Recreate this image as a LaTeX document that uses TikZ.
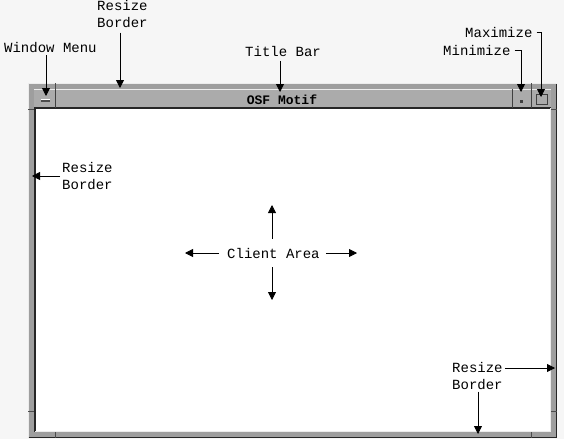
\documentclass[tikz,border=0pt]{standalone}
\usepackage{fontspec}
\setmonofont{Liberation Mono}
\usepackage{tikz}
\usetikzlibrary{arrows.meta}
\definecolor{frameGray}{HTML}{9E9E9E}
\definecolor{titleGray}{HTML}{ABABAB}
\definecolor{paperGray}{HTML}{F6F6F6}

\begin{document}
\begin{tikzpicture}[x=1pt,y=-1pt,
  lbl/.style={font=\ttfamily\fontsize{14}{16.5}\selectfont,inner sep=2pt,align=left},
  tip/.style={-{Triangle[length=8pt,width=8pt]},line width=0.8pt},
  edge/.style={line width=1.1pt,black!85}]
\useasboundingbox[fill=paperGray] (0,0) rectangle (564,439);
% outer resize border with its corner handles
\fill[frameGray] (28,83) rectangle (557,438);
\draw[white!85!gray,line width=0.8pt] (28.5,437.5) -- (28.5,83.5) -- (556.5,83.5);
\draw[edge] (28.5,437.5) -- (556.5,437.5) -- (556.5,83.5);
\foreach \x in {55,531}{
  \draw[black!70,line width=0.8pt] (\x,83) -- (\x,89);
  \draw[black!70,line width=0.8pt] (\x,432) -- (\x,438);
}
\foreach \y in {109,411}{
  \draw[black!70,line width=0.8pt] (28,\y) -- (34,\y);
  \draw[black!70,line width=0.8pt] (551,\y) -- (557,\y);
}
% title bar and its buttons
\fill[titleGray] (34,89) rectangle (551,108);
\draw[white!85!gray,line width=0.8pt] (34,89.5) -- (551,89.5);
\draw[edge] (34,108) -- (551,108);
\draw[black!75,line width=0.8pt] (55,89) -- (55,108);
\draw[black!75,line width=0.8pt] (512,89) -- (512,108);
\draw[black!75,line width=0.8pt] (531,89) -- (531,108);
\fill[black!70] (41,100) rectangle (50,102);
\fill[white] (41,99.3) rectangle (50,100);
\fill[black!75] (520,100) rectangle (523,103);
\draw[black!75,line width=0.8pt] (536,94) rectangle (547,104);
\node[font=\ttfamily\bfseries\fontsize{13}{15}\selectfont,inner sep=0pt] (title) at (282,99.5) {OSF Motif};
% client area
\fill[white] (35,109) rectangle (550,431);
\draw[edge] (35,108) -- (35,431.5);
\draw[white!85!gray,line width=0.8pt] (35,431.5) -- (550.5,431.5) -- (550.5,108);

% labels
\node[lbl,anchor=west] (rbTop)  at (95,14)   {Resize\\Border};
\node[lbl,anchor=west] (wmenu)  at (2,48)    {Window Menu};
\node[lbl,anchor=west] (tbar)   at (243,51.5){Title Bar};
\node[lbl,anchor=west] (maxi)   at (463,32)  {Maximize};
\node[lbl,anchor=west] (mini)   at (441,50)  {Minimize};
\node[lbl,anchor=west] (rbLeft) at (60,176)  {Resize\\Border};
\node[lbl,anchor=west] (client) at (225,253) {Client Area};
\node[lbl,anchor=west] (rbBot)  at (450,376) {Resize\\Border};

% arrow tips
\coordinate (rbTopTip)   at (120,88);
\coordinate (wmenuTip)   at (46,96);
\coordinate (tbarTip)    at (280,92);
\coordinate (maxiTip)    at (541,97);
\coordinate (miniTip)    at (521,92);
\coordinate (rbLeftTip)  at (32,176);
\coordinate (caLeft)     at (185,253);
\coordinate (caRight)    at (357,253);
\coordinate (caUp)       at (272,205);
\coordinate (caDown)     at (272,300);
\coordinate (rbBotRight) at (555,368);
\coordinate (rbBotDown)  at (478,434);

% arrows
\draw[tip] (rbTop.south -| rbTopTip) ++(0,3) -- (rbTopTip);
\draw[tip] (wmenu.south -| wmenuTip) -- (wmenuTip);
\draw[tip] (tbar.south -| tbarTip) ++(0,2) -- (tbarTip);
\draw[tip,shorten <=2pt] (maxi.east) -| (maxiTip);
\draw[tip,shorten <=2pt] (mini.east) -| (miniTip);
\draw[tip] (rbLeft.west |- rbLeftTip) -- (rbLeftTip);
\draw[tip,shorten <=6pt] (client.west) -- (caLeft);
\draw[tip,shorten <=4pt] (client.east) -- (caRight);
\draw[tip,shorten <=7pt] (client.north -| caUp) -- (caUp);
\draw[tip,shorten <=7pt] (client.south -| caDown) -- (caDown);
\draw[tip] (rbBot.east |- rbBotRight) -- (rbBotRight);
\draw[tip] (rbBot.south -| rbBotDown) -- (rbBotDown);
\end{tikzpicture}
\end{document}
